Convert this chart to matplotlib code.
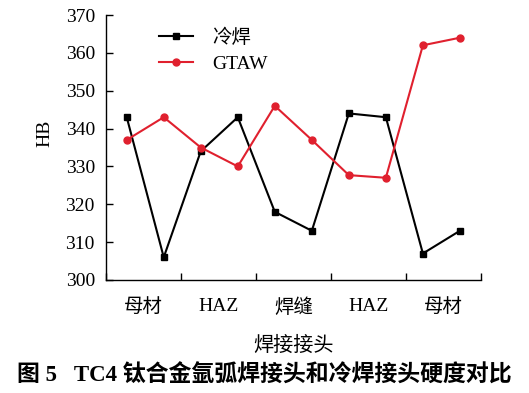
import matplotlib
matplotlib.use("Agg")
import matplotlib.pyplot as plt
import numpy as np

categories = ["母材", "HAZ", "焊缝", "HAZ", "母材"]
cold_weld = [343, 306, 334, 343, 318, 313, 344, 343, 307, 313]
gtaw = [337, 343, 335, 330, 346, 337, 327.7, 327, 362, 364]
series_names = ["冷焊", "GTAW"]
yticks = [300, 310, 320, 330, 340, 350, 360, 370]

FAM = ["Liberation Serif", "Noto Sans CJK SC"]
plt.rcParams["font.family"] = FAM

fig = plt.figure(figsize=(5.29, 3.93), dpi=100)
ax = fig.add_axes([106/529, 1-280/393, 375/529, 265/393])

x = np.arange(1, len(cold_weld) + 1)
ax.plot(x, cold_weld, color="black", lw=1.5, marker="s", ms=4.5, label=series_names[0])
ax.plot(x, gtaw, color="#e0202e", lw=1.5, marker="o", ms=5, label=series_names[1])

xmin, xmax = 0.44, 10.57
ax.set_xlim(xmin, xmax)
ax.set_ylim(300, 370)
bounds = np.linspace(xmin, xmax, len(categories) + 1)
mids = (bounds[:-1] + bounds[1:]) / 2
ax.set_xticks(bounds)
ax.set_xticklabels([])
ax.set_xticks(mids, minor=True)
ax.set_xticklabels(categories, minor=True, fontsize=14)
ax.tick_params(axis="x", which="major", direction="in", length=5, width=1)
ax.tick_params(axis="x", which="minor", length=0, pad=13)
ax.set_yticks(yticks)
ax.set_yticklabels([str(v) for v in yticks], fontsize=14)
ax.tick_params(axis="y", direction="in", length=5, width=1, pad=8)

for s in ["top", "right"]:
    ax.spines[s].set_visible(False)
for s in ["left", "bottom"]:
    ax.spines[s].set_linewidth(1)

ax.set_ylabel("HB", fontsize=14)
ax.yaxis.set_label_coords(-0.14, 0.555)
ax.set_xlabel("焊接接头", fontsize=14.5)
ax.xaxis.set_label_coords(0.5, -0.215)

leg = ax.legend(loc="upper left", bbox_to_anchor=(0.095, 1.015), frameon=False,
                fontsize=14, handlelength=1.75, handletextpad=1.0, labelspacing=0.45)

fig.text(0.5, 1-376/393, "图 5   TC4 钛合金氩弧焊接头和冷焊接头硬度对比",
         ha="center", va="center", fontsize=16.5, fontweight="bold", family=FAM)

fig.savefig("out.png", dpi=100)
